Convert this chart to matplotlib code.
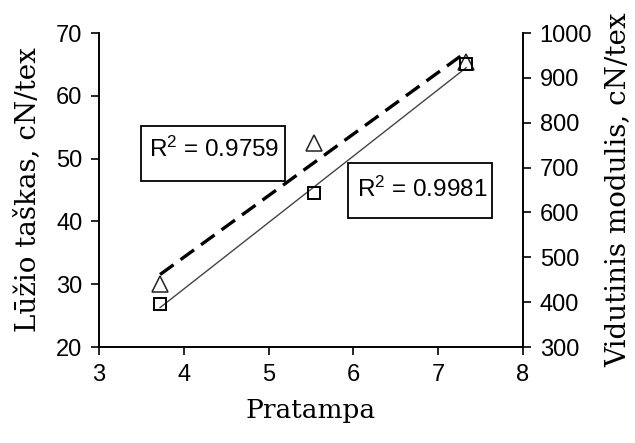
import numpy as np
import matplotlib
matplotlib.use("Agg")
import matplotlib.pyplot as plt
from matplotlib.patches import Rectangle

# Data
pratampa = [3.72, 5.54, 7.33]
luzio_taskas = [30.0, 52.5, 65.4]        # left axis, triangles, dashed trend
vidutinis_modulis = [395, 643, 930]      # right axis, squares, solid trend
r2_left = "R$^2$ = 0.9759"
r2_right = "R$^2$ = 0.9981"
xticks = [3, 4, 5, 6, 7, 8]
yticks_left = [20, 30, 40, 50, 60, 70]
yticks_right = [300, 400, 500, 600, 700, 800, 900, 1000]

plt.rcParams["mathtext.fontset"] = "custom"
plt.rcParams["mathtext.rm"] = "Liberation Sans"
plt.rcParams["mathtext.it"] = "Liberation Sans"
plt.rcParams["mathtext.default"] = "regular"

sans = ["Liberation Sans", "DejaVu Sans"]
serif = ["DejaVu Serif"]

fig = plt.figure(figsize=(6.35, 4.43), dpi=100)
ax = fig.add_axes([0.1559, 0.2167, 0.8236 - 0.1559, 0.9255 - 0.2167])
ax2 = ax.twinx()

x = np.array(pratampa)
# trend lines (linear fit)
c1 = np.polyfit(x, luzio_taskas, 1)
c2 = np.polyfit(x, vidutinis_modulis, 1)
xl = np.array([x.min(), x.max()])
ax.plot(xl, np.polyval(c1, xl), color="black", lw=2.4, ls=(0, (5, 2.6)), zorder=2)
ax2.plot(xl, np.polyval(c2, xl), color="#444444", lw=1.0, zorder=2)

ax.plot(x, luzio_taskas, ls="none", marker="^", ms=11, mfc="white", mec="#222222", mew=1.1, zorder=3)
ax2.plot(x, vidutinis_modulis, ls="none", marker="s", ms=8.5, mfc="none", mec="black", mew=1.4, zorder=3)

ax.set_xlim(3, 8)
ax.set_ylim(20, 70)
ax2.set_ylim(300, 1000)
ax.set_xticks(xticks)
ax.set_yticks(yticks_left)
ax2.set_yticks(yticks_right)

for a in (ax, ax2):
    a.spines["top"].set_visible(False)
    a.tick_params(direction="out", length=6, width=1.2, labelsize=17, pad=6)
    for lab in a.get_xticklabels() + a.get_yticklabels():
        lab.set_family(sans)
for s in ("left", "bottom", "right"):
    ax.spines[s].set_linewidth(1.2)
    ax2.spines[s].set_linewidth(1.2)

ax.set_xlabel("Pratampa", family=serif, fontsize=19, labelpad=9)
ax.set_ylabel("Lūžio taškas, cN/tex", family=serif, fontsize=20, labelpad=11)
ax2.set_ylabel("Vidutinis modulis, cN/tex", family=serif, fontsize=20, labelpad=9)

# R^2 boxes
for (bx0, by0, bx1, by1, tx, ty, txt) in [
    (0.099, 0.529, 0.439, 0.704, 0.118, 0.605, r2_left),
    (0.587, 0.411, 0.927, 0.586, 0.608, 0.478, r2_right),
]:
    ax2.add_patch(Rectangle((bx0, by0), bx1 - bx0, by1 - by0, transform=ax2.transAxes,
                            facecolor="white", edgecolor="black", lw=1.3, zorder=5))
    ax2.text(tx, ty, txt, transform=ax2.transAxes, family=sans, fontsize=17.5,
             va="baseline", ha="left", zorder=6)

fig.savefig("out.png", dpi=100)
